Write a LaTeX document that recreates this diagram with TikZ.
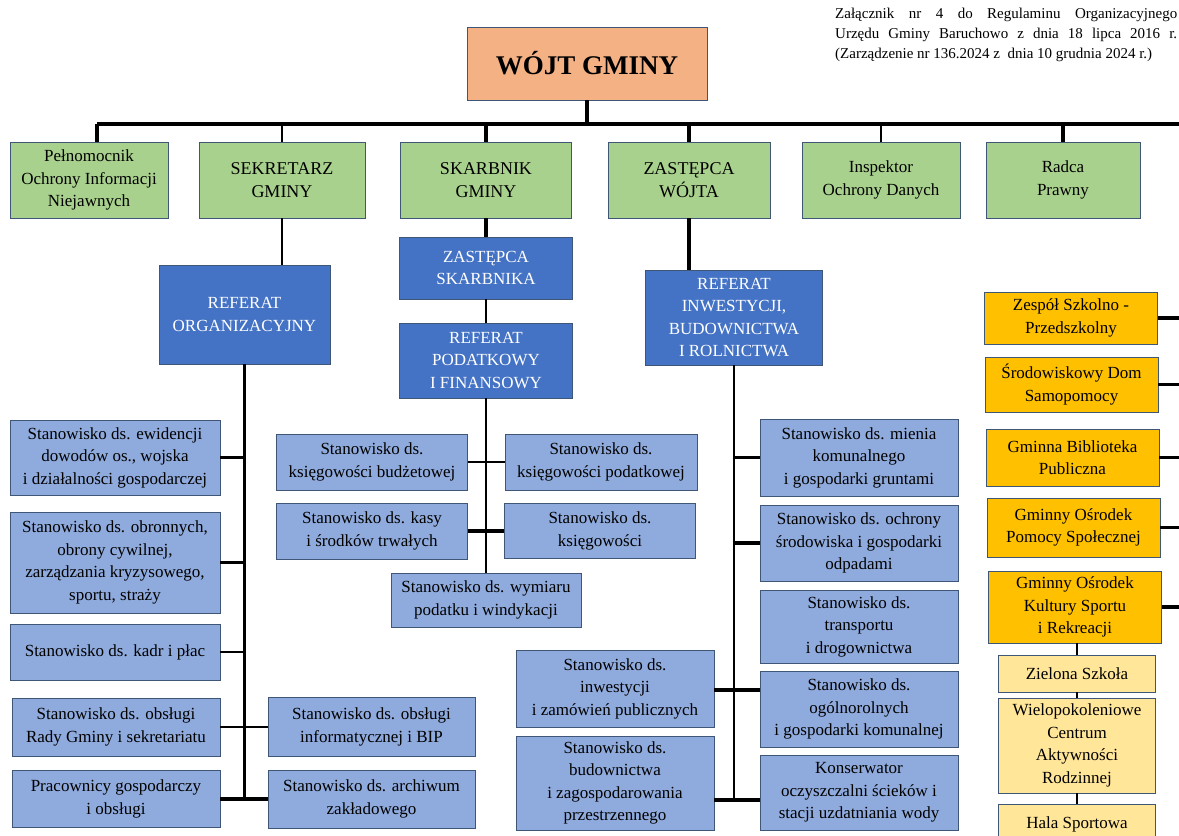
\documentclass[tikz,border=0pt]{standalone}
\usepackage{fontspec}
\setmainfont{Liberation Serif}
\usepackage{tikz}

\definecolor{wojtfill}{HTML}{F4B183}
\definecolor{greenfill}{HTML}{A9D18E}
\definecolor{reffill}{HTML}{4472C4}
\definecolor{posfill}{HTML}{8FAADC}
\definecolor{unitfill}{HTML}{FFC000}
\definecolor{subfill}{HTML}{FFE699}
\definecolor{boxline}{HTML}{3F5676}

\begin{document}
\begin{tikzpicture}[x=1pt,y=-1pt,
    box/.style={draw=boxline, line width=0.9pt, align=center, inner sep=2pt,
      font=\fontsize{17}{22.5}\selectfont},
    wojtbox/.style={box, fill=wojtfill, font=\bfseries\fontsize{27}{30}\selectfont},
    greenbox/.style={box, fill=greenfill, minimum height=76pt},
    refbox/.style={box, fill=reffill, text=white},
    posbox/.style={box, fill=posfill},
    unitbox/.style={box, fill=unitfill, minimum width=173pt},
    subbox/.style={box, fill=subfill, minimum width=157pt},
    title/.style={inner sep=0pt, text width=342pt, align=justify,
      font=\fontsize{15}{20}\selectfont},
    link/.style={line width=2.1pt},
    thicklink/.style={line width=3.2pt}]
    \clip (0,0) rectangle (1179,836);
    \fill[white] (0,0) rectangle (1179,836);

    % naglowek
    \node[title, anchor=north west] (zalacznik) at (835,8)
      {Załącznik nr 4 do Regulaminu Organizacyjnego\linebreak
       Urzędu Gminy Baruchowo z dnia 18 lipca 2016 r.\linebreak
       (Zarządzenie nr 136.2024 z~ dnia 10 grudnia 2024 r.)};

    % wojt i pierwszy poziom
    \node[wojtbox, minimum width=240pt, minimum height=73pt] (wojt) at (587,63.5) {WÓJT GMINY};
    \coordinate (busR) at (1179,124);
    \node[greenbox, minimum width=158pt] (pelnomocnik) at (89,180) {Pełnomocnik\\Ochrony Informacji\\Niejawnych};
    \node[greenbox, minimum width=166pt, font=\fontsize{18}{23}\selectfont] (sekretarz) at (282,180) {SEKRETARZ\\GMINY};
    \node[greenbox, minimum width=171pt, font=\fontsize{18}{23}\selectfont] (skarbnik) at (486,180) {SKARBNIK\\GMINY};
    \node[greenbox, minimum width=162pt, font=\fontsize{18}{23}\selectfont] (zastepca) at (689,180) {ZASTĘPCA\\WÓJTA};
    \node[greenbox, minimum width=158pt] (inspektor) at (881,180) {Inspektor\\Ochrony Danych};
    \node[greenbox, minimum width=154pt] (radca) at (1063,180) {Radca\\Prawny};

    \draw[thicklink] (wojt.south) -- (wojt.south |- busR);
    \draw[thicklink] ([xshift=8pt]pelnomocnik.north |- busR) -- (busR);
    \foreach \n/\s in {sekretarz/link, skarbnik/thicklink,
                       zastepca/thicklink, inspektor/link, radca/thicklink}
      \draw[\s] (\n.north) -- (\n.north |- busR);
    \draw[thicklink] ([xshift=8pt]pelnomocnik.north) -- ([xshift=8pt]pelnomocnik.north |- busR);

    % referat organizacyjny
    \node[refbox, minimum width=171pt, minimum height=99pt] (refOrg) at (244.5,314.5) {REFERAT\\ORGANIZACYJNY};
    \node[posbox, minimum width=210pt, minimum height=75pt] (ewidencja) at (115,457.5)
      {Stanowisko ds. ewidencji\\dowodów os., wojska\\i działalności gospodarczej};
    \node[posbox, minimum width=210pt, minimum height=101pt] (obronne) at (115,562.5)
      {Stanowisko ds. obronnych,\\obrony cywilnej,\\zarządzania kryzysowego,\\sportu, straży};
    \node[posbox, minimum width=210pt, minimum height=56pt] (kadry) at (115,652) {Stanowisko ds. kadr i płac};
    \node[posbox, minimum width=208pt, minimum height=58pt] (rada) at (116,727) {Stanowisko ds. obsługi\\Rady Gminy i sekretariatu};
    \node[posbox, minimum width=208pt, minimum height=57pt] (pracownicy) at (116,799) {Pracownicy gospodarczy\\i obsługi};
    \node[posbox, minimum width=207pt, minimum height=59pt] (informatyka) at (371.5,727) {Stanowisko ds. obsługi\\informatycznej i BIP};
    \node[posbox, minimum width=207pt, minimum height=58pt] (archiwum) at (371.5,799) {Stanowisko ds. archiwum\\zakładowego};

    \draw[link] (sekretarz.south) -- (sekretarz.south |- refOrg.north);
    \draw[link] (refOrg.south) -- (refOrg.south |- pracownicy.east);
    \draw[thicklink] (ewidencja.east) -- (ewidencja.east -| refOrg.south);
    \draw[thicklink] (obronne.east) -- (obronne.east -| refOrg.south);
    \draw[link] (kadry.east) -- (kadry.east -| refOrg.south);
    \draw[link] (rada.east) -- (informatyka.west);
    \draw[thicklink] (pracownicy.east) -- (archiwum.west);

    % skarbnik
    \node[refbox, minimum width=173pt, minimum height=62pt] (zSkarbnika) at (486,268) {ZASTĘPCA\\SKARBNIKA};
    \node[refbox, minimum width=173pt, minimum height=75pt] (refPodatk) at (486,360.5) {REFERAT\\PODATKOWY\\I FINANSOWY};
    \node[posbox, minimum width=191pt, minimum height=56pt] (budzetowa) at (372,462) {Stanowisko ds.\\księgowości budżetowej};
    \node[posbox, minimum width=192pt, minimum height=56pt] (podatkowa) at (601,462) {Stanowisko ds.\\księgowości podatkowej};
    \node[posbox, minimum width=191pt, minimum height=56pt] (kasa) at (372,531) {Stanowisko ds. kasy\\i środków trwałych};
    \node[posbox, minimum width=191pt, minimum height=55pt] (ksiegowosc) at (600,531) {Stanowisko ds.\\księgowości};
    \node[posbox, minimum width=190pt, minimum height=54pt] (wymiar) at (486,600) {Stanowisko ds. wymiaru\\podatku i windykacji};

    \draw[thicklink] (skarbnik.south) -- (zSkarbnika.north);
    \draw[link] (zSkarbnika.south) -- (refPodatk.north);
    \draw[link] (refPodatk.south) -- (wymiar.north);
    \draw[link] (budzetowa.east) -- (podatkowa.west);
    \draw[thicklink] (kasa.east) -- (ksiegowosc.west);

    % zastepca wojta
    \node[refbox, minimum width=177pt, minimum height=95pt] (refInw) at (734,317.5) {REFERAT\\INWESTYCJI,\\BUDOWNICTWA\\I ROLNICTWA};
    \node[posbox, minimum width=198pt, minimum height=77pt] (mienie) at (859,457.5) {Stanowisko ds. mienia\\komunalnego\\i gospodarki gruntami};
    \node[posbox, minimum width=198pt, minimum height=76pt] (srodowisko) at (859,543) {Stanowisko ds. ochrony\\środowiska i gospodarki\\odpadami};
    \node[posbox, minimum width=198pt, minimum height=73pt] (transport) at (859,626.5) {Stanowisko ds.\\transportu\\i drogownictwa};
    \node[posbox, minimum width=198pt, minimum height=76pt] (rolne) at (859,709) {Stanowisko ds.\\ogólnorolnych\\i gospodarki komunalnej};
    \node[posbox, minimum width=198pt, minimum height=75pt] (konserwator) at (859,792.5) {Konserwator\\oczyszczalni ścieków i\\stacji uzdatniania wody};
    \node[posbox, minimum width=198pt, minimum height=77pt] (inwestycje) at (615,688.5) {Stanowisko ds.\\inwestycji\\i zamówień publicznych};
    \node[posbox, minimum width=198pt, minimum height=94pt] (budownictwo) at (615,783) {Stanowisko ds.\\budownictwa\\i zagospodarowania\\przestrzennego};
    \coordinate (jInw) at (734,690);
    \coordinate (jBud) at (734,800);

    \draw[thicklink] (zastepca.south) -- (zastepca.south |- refInw.north);
    \draw[link] (refInw.south) -- (refInw.south |- jBud);
    \draw[link] (mienie.west) -- (mienie.west -| refInw.south);
    \draw[thicklink] (srodowisko.west) -- (srodowisko.west -| refInw.south);
    \draw[thicklink] (inwestycje.east |- jInw) -- (rolne.west |- jInw);
    \draw[thicklink] (budownictwo.east |- jBud) -- (konserwator.west |- jBud);

    % jednostki organizacyjne
    \node[unitbox, minimum height=52pt] (zespol) at (1071,318) {Zespół Szkolno -\\Przedszkolny};
    \node[unitbox, minimum height=55pt] (sdom) at (1071.5,384.5) {Środowiskowy Dom\\Samopomocy};
    \node[unitbox, minimum height=57pt] (biblioteka) at (1072.5,457.5) {Gminna Biblioteka\\Publiczna};
    \node[unitbox, minimum height=59pt] (gops) at (1073.5,527.5) {Gminny Ośrodek\\Pomocy Społecznej};
    \node[unitbox, minimum height=72pt] (goksir) at (1075,607) {Gminny Ośrodek\\Kultury Sportu\\i Rekreacji};
    \node[subbox, minimum height=37pt] (zielona) at (1077,673.5) {Zielona Szkoła};
    \node[subbox, minimum height=95pt] (wielo) at (1077,745.5) {Wielopokoleniowe\\Centrum\\Aktywności\\Rodzinnej};
    \node[subbox, minimum height=40pt] (hala) at (1077,824) {Hala Sportowa};

    \draw[thicklink] (zespol.east) -- (zespol.east -| busR);
    \draw[link] (sdom.east) -- (sdom.east -| busR);
    \draw[link] (biblioteka.east) -- (biblioteka.east -| busR);
    \draw[thicklink] (gops.east) -- (gops.east -| busR);
    \draw[thicklink] (goksir.east) -- (goksir.east -| busR);
    \draw[link] (zielona.north |- goksir.south) -- (zielona.north);
    \draw[link] (zielona.south) -- (wielo.north);
    \draw[link] (wielo.south) -- (hala.north);
\end{tikzpicture}
\end{document}
